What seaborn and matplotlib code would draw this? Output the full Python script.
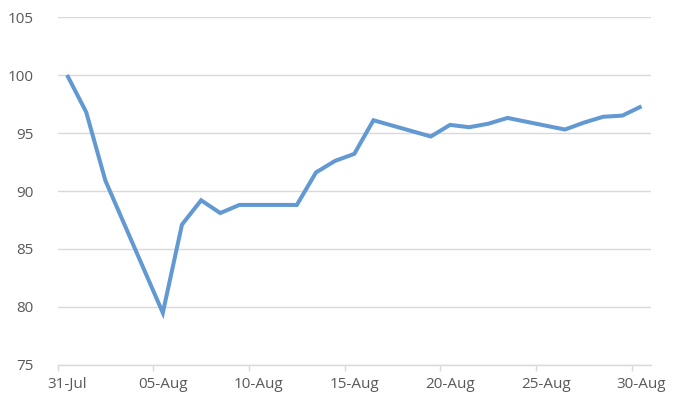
import matplotlib
matplotlib.use("Agg")
import matplotlib.pyplot as plt
import matplotlib.dates as mdates
import seaborn as sns
import pandas as pd
import numpy as np

dates = ["2019-07-31", "2019-08-01", "2019-08-02", "2019-08-05", "2019-08-06",
         "2019-08-07", "2019-08-08", "2019-08-09", "2019-08-12", "2019-08-13",
         "2019-08-14", "2019-08-15", "2019-08-16", "2019-08-19", "2019-08-20",
         "2019-08-21", "2019-08-22", "2019-08-23", "2019-08-26", "2019-08-27",
         "2019-08-28", "2019-08-29", "2019-08-30"]
values = [100.0, 96.8, 90.9, 79.5, 87.1, 89.2, 88.1, 88.8, 88.8, 91.6,
          92.6, 93.2, 96.1, 94.7, 95.7, 95.5, 95.8, 96.3, 95.3, 95.9,
          96.4, 96.5, 97.3]
tick_dates = ["2019-07-31", "2019-08-05", "2019-08-10", "2019-08-15",
              "2019-08-20", "2019-08-25", "2019-08-30"]
y_ticks = [75, 80, 85, 90, 95, 100, 105]

sns.set_theme(style="white")
plt.rcParams['font.family'] = ['Open Sans', 'DejaVu Sans']

df = pd.DataFrame({"date": pd.to_datetime(dates), "value": values})
# Excel date axis places points (and labels) in the middle of each day
half = pd.Timedelta(hours=12)
df["xpos"] = df["date"] + half

fig = plt.figure(figsize=(6.87, 4.15), dpi=100)
ax = fig.add_axes([0.0837, 0.1205, 0.8640, 0.8385])

sns.lineplot(data=df, x="xpos", y="value", ax=ax, color="#6399D3",
             linewidth=2.9, solid_joinstyle="miter", solid_capstyle="butt")

ax.set_ylim(75, 105)
ax.set_yticks(y_ticks)
ax.set_xlim(pd.Timestamp("2019-07-31"), pd.Timestamp("2019-08-31"))
tick_ts = pd.to_datetime(tick_dates)
ax.set_xticks(tick_ts)
ax.set_xticklabels([""] * len(tick_ts))
ax.set_xticks(tick_ts + half, minor=True)
ax.set_xticklabels([t.strftime("%d-%b") for t in tick_ts], minor=True)

ax.grid(axis="y", color="#D9D9D9", linewidth=1.0)
ax.grid(axis="x", visible=False)
ax.set_axisbelow(True)
for s in ["top", "right", "left"]:
    ax.spines[s].set_visible(False)
ax.spines["bottom"].set_color("#D9D9D9")
ax.spines["bottom"].set_linewidth(1.0)

ax.tick_params(axis="x", which="major", bottom=True, length=4, width=1.0,
               color="#D9D9D9")
ax.tick_params(axis="x", which="minor", bottom=True, length=0,
               labelsize=11, labelcolor="#595959", pad=9)
ax.tick_params(axis="y", left=False, labelsize=11, labelcolor="#595959", pad=11.5)
ax.set_xlabel("")
ax.set_ylabel("")

fig.savefig("out.png", dpi=100)
